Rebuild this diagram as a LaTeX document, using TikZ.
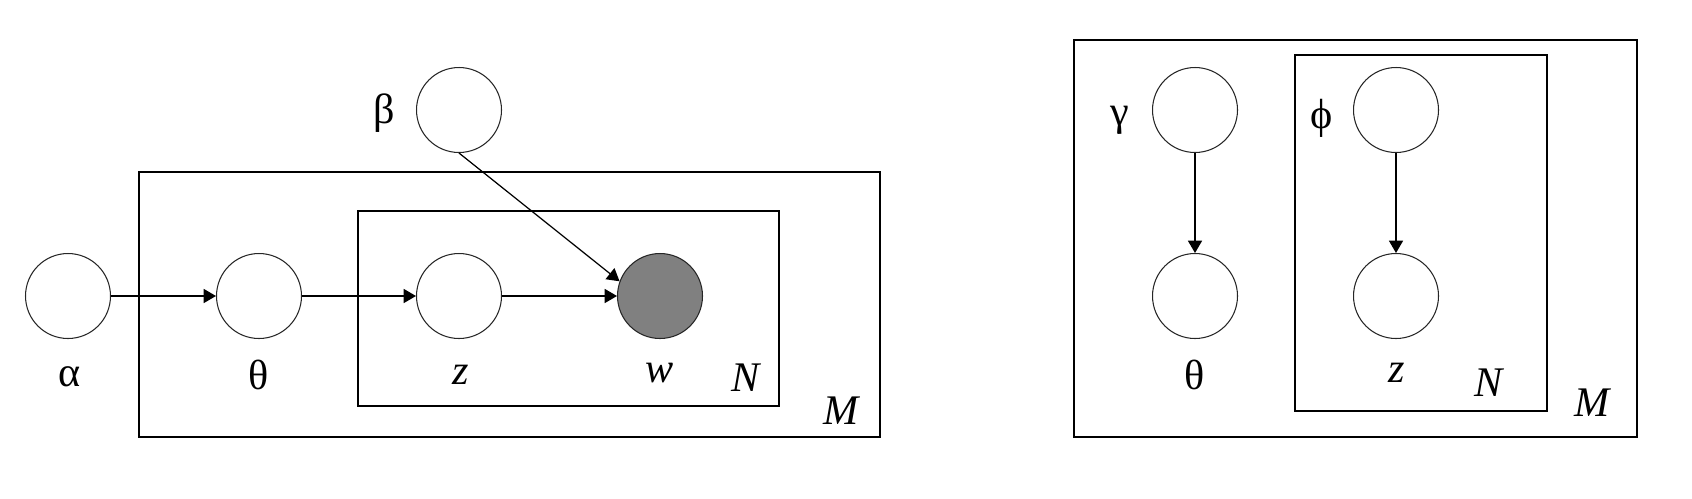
\documentclass[tikz,border=0pt]{standalone}
\usepackage{fontspec}
\setmainfont{Liberation Serif}
\usetikzlibrary{arrows.meta,positioning}

\begin{document}
\begin{tikzpicture}[
  x=0.02cm, y=-0.02cm,
  font=\fontsize{24}{28}\selectfont,
  var/.style={circle, draw=black!85, line width=0.6pt, minimum size=1.7cm, inner sep=0pt},
  obs/.style={var, fill=black!50},
  plate/.style={draw, line width=0.9pt},
  arr/.style={-{Triangle[length=7pt,width=8pt]}, line width=0.7pt},
  lbl/.style={inner sep=0pt}
]
\useasboundingbox (0,0) rectangle (1692,498);
% ---------------- left: generative model
\draw[plate] (139,172) rectangle (880,437);
\draw[plate] (358,211) rectangle (779,406);
\node[var] (alpha) at (68,296) {};
\node[var] (theta) at (259,296) {};
\node[var] (z) at (459,296) {};
\node[obs] (w) at (660,296) {};
\node[var] (beta) at (459,110) {};
\node[lbl] (alphaL) at (70,377) {α};
\node[lbl] (thetaL) at (259,375) {θ};
\node[lbl] (zL) at (461,375) {\textit{z}};
\node[lbl] (wL) at (660,373) {\textit{w}};
\node[lbl] (betaL) at (384,113) {β};
\node[lbl] (plN) at (747,378) {\textit{N}};
\node[lbl] (plM) at (842,411) {\textit{M}};
% ---------------- right: variational model
\draw[plate] (1074,40) rectangle (1637,437);
\draw[plate] (1295,55) rectangle (1547,411);
\node[var] (gamma) at (1195,110) {};
\node[var] (thetaq) at (1195,296) {};
\node[var] (phi) at (1396,110) {};
\node[var] (zq) at (1396,296) {};
\node[lbl] (gammaL) at (1120,120) {γ};
\node[lbl] (phiL) at (1322,118) {ϕ};
\node[lbl] (thetaqL) at (1195,375) {θ};
\node[lbl] (zqL) at (1397,373) {\textit{z}};
\node[lbl] (plNq) at (1490,383) {\textit{N}};
\node[lbl] (plMq) at (1593,403) {\textit{M}};
% ---------------- arrows
\draw[arr] (alpha) -- (theta);
\draw[arr] (theta) -- (z);
\draw[arr] (z) -- (w);
\draw[arr] (beta.south) -- (w.160);
\draw[arr] (gamma) -- (thetaq);
\draw[arr] (phi) -- (zq);
\end{tikzpicture}
\end{document}
